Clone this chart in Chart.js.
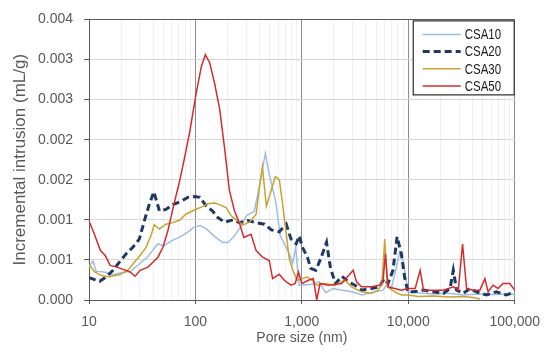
<!DOCTYPE html>
<html>
<head>
<meta charset="utf-8">
<script src="https://cdn.jsdelivr.net/npm/chart.js@4.4.1/dist/chart.umd.min.js"></script>
<style>
  html, body { margin: 0; padding: 0; background: #ffffff; }
  canvas { display: block; }
</style>
</head>
<body>
<canvas id="chart" width="550" height="353"></canvas>
<script>
const ctx = document.getElementById("chart");

// series names (legend order)
const seriesNames = ["CSA10", "CSA20", "CSA30", "CSA50"];

// pore size (nm) and incremental intrusion (mL/g)
const poreCSA10 = [10, 10.9, 11.7, 13.9, 16.5, 20.0, 24.6, 29.8, 35.1, 39.5, 44, 50.6, 60.1, 71.3, 84.7,
  96.4, 110, 128, 145, 163, 181, 202, 233, 269, 300, 322, 358, 399, 454, 494, 567, 627, 698, 789, 820,
  875, 944, 1089, 1256, 1452, 1675, 1963, 2395, 2971, 3681, 4842, 5794, 6223, 6934, 7600, 8300, 9040,
  9910, 12470, 17220, 23820, 32880, 45400, 62660, 83000, 100000];
const intrCSA10 = [0.000407, 0.000487, 0.000357, 0.000349, 0.000314, 0.000339, 0.000357, 0.000452, 0.000530, 0.000616,
  0.000699, 0.000678, 0.000740, 0.000785, 0.000848, 0.000906, 0.000930, 0.000884, 0.000813, 0.000760,
  0.000718, 0.000718, 0.000800, 0.000924, 0.00105, 0.00107, 0.00111, 0.00142, 0.00183, 0.00157,
  0.00123, 0.000800, 0.000678, 0.000530, 0.000456, 0.000657, 0.000185, 0.000191, 0.000197, 0.000226,
  0.000092, 0.000144, 0.000123, 0.000102, 0.000062, 0.000102, 0.000123, 0.000185, 0.000144, 0.000370,
  0.000592, 0.000468, 0.000102, 0.000086, 0.000074, 0.000083, 0.000062, 0.000074, 0.000068, 0.000074,
  0.000068];

const poreCSA20 = [10, 11.3, 12.6, 14.5, 16.8, 19.3, 22.3, 25.8, 29.7, 33.1, 36.8, 40.7, 45.9, 52.8, 61.4,
  72.9, 84.7, 98.4, 110, 127, 145, 162, 188, 225, 259, 310, 372, 445, 517, 614, 713, 789, 885, 944, 1014,
  1128, 1213, 1352, 1506, 1706, 1860, 2070, 2380, 2737, 3150, 3640, 4511, 5395, 5916, 6450, 7178, 7852,
  8610, 9230, 9910, 11220, 13900, 17220, 21380, 24700, 26490, 28450, 32880, 37930, 43750, 54330, 67300,
  83370, 100000];
const intrCSA20 = [0.000280, 0.000255, 0.000234, 0.000287, 0.000370, 0.000472, 0.000575, 0.000657, 0.000760, 0.000986,
  0.00119, 0.00135, 0.00111, 0.00113, 0.00119, 0.00123, 0.00128, 0.00129, 0.00128, 0.00117,
  0.00111, 0.00103, 0.000970, 0.00100, 0.000965, 0.000990, 0.000965, 0.000945, 0.000875, 0.000850,
  0.000945, 0.000764, 0.000702, 0.000800, 0.000657, 0.000534, 0.000394, 0.000370, 0.000518, 0.000718,
  0.000394, 0.000206, 0.000296, 0.000226, 0.000185, 0.000123, 0.000144, 0.000164, 0.000267, 0.000206,
  0.000370, 0.000789, 0.000575, 0.000287, 0.000102, 0.000102, 0.000123, 0.000102, 0.000083, 0.000144,
  0.000370, 0.000123, 0.000083, 0.000144, 0.000102, 0.000062, 0.000102, 0.000062, 0.000102];

const poreCSA30 = [10, 11.3, 13.0, 15.1, 19.4, 23.3, 26.7, 30.2, 34.3, 38.2, 41.0, 45.9, 52.8, 61, 71.3,
  81.1, 96.4, 110, 131, 151, 169, 195, 217, 250, 279, 322, 372, 399, 426, 464, 513, 563, 614, 659, 708,
  761, 830, 904, 1014, 1122, 1248, 1380, 1651, 2048, 2541, 2931, 3639, 4511, 5200, 5662, 6010, 6368,
  7447, 8610, 9910, 12470, 17220, 23820, 32880, 40740, 47400];
const intrCSA30 = [0.000444, 0.000349, 0.000308, 0.000290, 0.000314, 0.000376, 0.000472, 0.000555, 0.000657, 0.000800,
  0.000937, 0.000884, 0.000945, 0.000965, 0.000998, 0.00107, 0.00112, 0.00115, 0.00120, 0.00121,
  0.00119, 0.00115, 0.00105, 0.000986, 0.000937, 0.000970, 0.00107, 0.00140, 0.00166, 0.00117,
  0.00136, 0.00154, 0.00150, 0.00120, 0.000863, 0.000518, 0.000357, 0.000246, 0.000267, 0.000287,
  0.000246, 0.000185, 0.000206, 0.000185, 0.000246, 0.000164, 0.000102, 0.000083, 0.000123, 0.000206,
  0.000760, 0.000164, 0.000102, 0.000062, 0.000062, 0.000043, 0.000049, 0.000037, 0.000043, 0.000031,
  0.000012];

const poreCSA50 = [10, 11.2, 12.8, 14.2, 15.8, 18.3, 20.9, 24.3, 27.1, 30.2, 35.8, 39.9, 44.4, 49.5, 55.1,
  62.7, 69.8, 77.8, 88.5, 102, 114, 124, 136, 151, 169, 188, 209, 233, 259, 285, 333, 372, 428, 494, 531,
  614, 684, 789, 866, 929, 1000, 1153, 1283, 1380, 1483, 1774, 2366, 3036, 3266, 3639, 4511, 5395, 5794,
  6100, 6450, 7447, 8610, 9910, 11610, 12940, 13900, 17220, 21380, 26490, 29510, 32360, 35300, 40740,
  47100, 52480, 56230, 62660, 69660, 77620, 89740, 100000];
const intrCSA50 = [0.000986, 0.000826, 0.000616, 0.000555, 0.000431, 0.000410, 0.000382, 0.000349, 0.000296, 0.000370,
  0.000410, 0.000472, 0.000534, 0.000657, 0.000863, 0.00119, 0.00144, 0.00173, 0.00210, 0.00259,
  0.00292, 0.00306, 0.00296, 0.00271, 0.00238, 0.00189, 0.00136, 0.00111, 0.000960, 0.000780,
  0.000820, 0.000616, 0.000534, 0.000493, 0.000267, 0.000320, 0.000246, 0.000185, 0.000206, 0.000349,
  0.000206, 0.000246, 0.000267, 0, 0.000206, 0.000185, 0.000206, 0.000370, 0.000226, 0.000164,
  0.000164, 0.000185, 0.000246, 0.000575, 0.000164, 0.000144, 0.000123, 0.000144, 0.000144, 0.000370,
  0.000123, 0.000123, 0.000123, 0.000164, 0.000123, 0.000699, 0.000144, 0.000123, 0.000123, 0.000267,
  0.000102, 0.000185, 0.000144, 0.000206, 0.000206, 0.000123];

// axis ticks
const xTickValues = [10, 100, 1000, 10000, 100000];
const xTickLabels = ["10", "100", "1,000", "10,000", "100,000"];
const yTickLabels = ["0.000", "0.001", "0.001", "0.002", "0.002", "0.003", "0.003", "0.004"];
const yStep = 0.0005;
const yMax = 0.0035;

const FONT = "'Liberation Sans', Arial, sans-serif";
const TEXT = "#595959";

function toPoints(sizes, vals) {
  return sizes.map((s, i) => ({ x: s, y: vals[i] }));
}

// every 1..9 x 10^k line for the log grid
function logGridValues() {
  const out = [];
  for (let k = 1; k < 5; k++) {
    for (let m = 1; m < 10; m++) out.push(m * Math.pow(10, k));
  }
  out.push(100000);
  return out;
}

const whiteBg = {
  id: "whiteBg",
  beforeDraw(chart) {
    const c = chart.ctx;
    c.save();
    c.fillStyle = "#ffffff";
    c.fillRect(0, 0, chart.width, chart.height);
    c.restore();
  }
};

// boxed legend sitting in the top right corner of the plot
const boxLegend = {
  id: "boxLegend",
  afterDraw(chart) {
    const c = chart.ctx;
    const area = chart.chartArea;
    const w = 102, h = 75;
    const x0 = area.right - w, y0 = area.top + 1;
    c.save();
    c.fillStyle = "#ffffff";
    c.fillRect(x0, y0, w, h);
    c.strokeStyle = "#000000";
    c.lineWidth = 1;
    c.strokeRect(x0 + 0.5, y0 + 0.5, w - 1, h - 1);
    c.font = "14px " + FONT;
    c.textBaseline = "middle";
    c.fillStyle = "#1a1a1a";
    chart.data.datasets.forEach((ds, i) => {
      const y = y0 + 14 + i * 17.2;
      c.beginPath();
      c.strokeStyle = ds.borderColor;
      c.lineWidth = ds.borderWidth;
      c.setLineDash(ds.borderDash || []);
      c.moveTo(x0 + 10, y);
      c.lineTo(x0 + 48, y);
      c.stroke();
      c.setLineDash([]);
      // narrow the label a little, like the original condensed font
      c.save();
      c.translate(x0 + 52, y + 1);
      c.scale(0.82, 1);
      c.fillText(ds.label, 0, 0);
      c.restore();
    });
    c.restore();
  }
};

new Chart(ctx, {
  type: "line",
  data: {
    datasets: [
      {
        label: seriesNames[0],
        data: toPoints(poreCSA10, intrCSA10),
        borderColor: "#9dbde8",
        borderWidth: 1.5,
        order: 3
      },
      {
        label: seriesNames[1],
        data: toPoints(poreCSA20, intrCSA20),
        borderColor: "#1f3864",
        borderWidth: 3,
        borderDash: [7, 4],
        order: 2
      },
      {
        label: seriesNames[2],
        data: toPoints(poreCSA30, intrCSA30),
        borderColor: "#c9a233",
        borderWidth: 1.5,
        order: 1
      },
      {
        label: seriesNames[3],
        data: toPoints(poreCSA50, intrCSA50),
        borderColor: "#d42b2b",
        borderWidth: 1.5,
        order: 0
      }
    ]
  },
  options: {
    responsive: false,
    animation: false,
    events: [],
    elements: {
      point: { radius: 0 },
      line: { tension: 0, fill: false }
    },
    layout: { padding: { left: 0, top: 16, right: 33, bottom: 0 } },
    plugins: {
      legend: { display: false },
      tooltip: { enabled: false }
    },
    scales: {
      x: {
        type: "logarithmic",
        min: 10,
        max: 100000,
        afterBuildTicks: (scale) => {
          scale.ticks = logGridValues().map((v) => ({ value: v }));
        },
        afterFit: (scale) => { scale.height = 53; },
        ticks: {
          autoSkip: false,
          maxRotation: 0,
          minRotation: 0,
          padding: 10,
          color: TEXT,
          font: { family: FONT, size: 14 },
          callback: (v) => {
            const i = xTickValues.indexOf(v);
            return i >= 0 ? xTickLabels[i] : "";
          }
        },
        grid: {
          color: (c) => (xTickValues.includes(c.tick.value) ? "#8c8c8c" : "#f0f0f0"),
          tickColor: (c) => (xTickValues.includes(c.tick.value) ? TEXT : "rgba(0,0,0,0)"),
          tickLength: 4
        },
        border: { color: TEXT, width: 1 },
        title: {
          display: true,
          text: "Pore size (nm)",
          color: TEXT,
          font: { family: FONT, size: 14 },
          padding: { top: 0, bottom: 6 }
        }
      },
      y: {
        min: 0,
        max: yMax,
        afterFit: (scale) => { scale.width = 89; },
        ticks: {
          stepSize: yStep,
          padding: 11,
          color: TEXT,
          font: { family: FONT, size: 14 },
          callback: (v) => yTickLabels[Math.round(v / yStep)]
        },
        grid: {
          color: (c) => (c.tick.value > yMax - yStep / 10 ? TEXT : "#d9d9d9"),
          tickColor: TEXT,
          tickLength: 5
        },
        border: { color: TEXT, width: 1 },
        title: {
          display: true,
          text: "Incremental intrusion (mL/g)",
          color: TEXT,
          font: { family: FONT, size: 17 },
          padding: { top: 10, bottom: 0 }
        }
      }
    }
  },
  plugins: [whiteBg, boxLegend]
});
</script>
</body>
</html>
